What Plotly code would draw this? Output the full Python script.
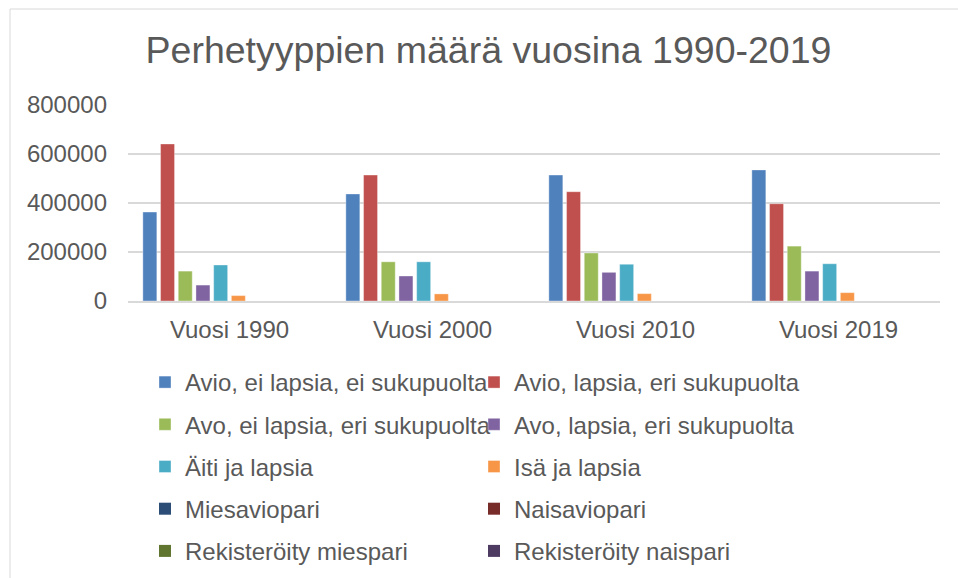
import plotly.graph_objects as go

categories = ["Vuosi 1990", "Vuosi 2000", "Vuosi 2010", "Vuosi 2019"]

series_names = [
    "Avio, ei lapsia, ei sukupuolta",
    "Avio, lapsia, eri sukupuolta",
    "Avo, ei lapsia, eri sukupuolta",
    "Avo, lapsia, eri sukupuolta",
    "Äiti ja lapsia",
    "Isä ja lapsia",
    "Miesaviopari",
    "Naisaviopari",
    "Rekisteröity miespari",
    "Rekisteröity naispari",
]

avio_ei_lapsia = [363000, 437000, 514000, 535000]
avio_lapsia = [641000, 514000, 446000, 397000]
avo_ei_lapsia = [122000, 160000, 196000, 224000]
avo_lapsia = [65000, 102000, 117000, 122000]
aiti_ja_lapsia = [147000, 160000, 150000, 152000]
isa_ja_lapsia = [22000, 29000, 30000, 34000]
# too small to be visible at this scale
miesaviopari = [0, 0, 0, 0]
naisaviopari = [0, 0, 0, 0]
rek_miespari = [0, 0, 0, 0]
rek_naispari = [0, 0, 0, 0]

series_values = [
    avio_ei_lapsia, avio_lapsia, avo_ei_lapsia, avo_lapsia, aiti_ja_lapsia,
    isa_ja_lapsia, miesaviopari, naisaviopari, rek_miespari, rek_naispari,
]

colors = ["#4F81BD", "#C0504D", "#9BBB59", "#8064A2", "#4BACC6",
          "#F79646", "#2C4D75", "#772C2A", "#5F7530", "#4D3B62"]

y_ticks = [0, 200000, 400000, 600000, 800000]

W, H = 958, 578
L, R, T, B = 128, 18, 105, 277
FONT = "Liberation Sans, Arial, sans-serif"
GREY = "#595959"

fig = go.Figure()
for i, (name, vals, col) in enumerate(zip(series_names, series_values, colors)):
    fig.add_trace(go.Bar(
        x=categories, y=vals, name=name,
        marker=dict(color=col,
                    line=dict(color="rgba(255,255,255,0.45)",
                              width=0.8 if i < 6 else 0)),
        legend="legend" if i % 2 == 0 else "legend2",
        legendgroup=f"g{i}",
    ))

legend_common = dict(
    orientation="v",
    xref="container", yref="container",
    xanchor="left", yanchor="top",
    font=dict(family=FONT, size=24, color=GREY),
    tracegroupgap=8,
    bgcolor="rgba(0,0,0,0)",
    traceorder="grouped",
)

fig.update_layout(
    width=W, height=H,
    margin=dict(l=L, r=R, t=T, b=B, autoexpand=False),
    paper_bgcolor="white", plot_bgcolor="white",
    barmode="group", bargap=0.128, bargroupgap=0.21,
    title=dict(text="Perhetyyppien määrä vuosina 1990-2019",
               font=dict(family=FONT, size=37.5, color=GREY),
               x=488.5 / W, xanchor="center", xref="container",
               y=1 - 50 / H, yanchor="middle", yref="container"),
    font=dict(family=FONT, color=GREY),
    legend=dict(x=145 / W, y=1 - 360 / H, **legend_common),
    legend2=dict(x=474 / W, y=1 - 360 / H, **legend_common),
    xaxis=dict(showline=True, linecolor="#D9D9D9", linewidth=1.5,
               tickfont=dict(family=FONT, size=24, color=GREY),
               ticks="", ticklabelstandoff=6, showgrid=False),
    yaxis=dict(range=[0, 800000], tickvals=y_ticks,
               ticktext=[str(v) for v in y_ticks],
               tickfont=dict(family=FONT, size=24, color=GREY),
               showgrid=True, gridcolor="#D9D9D9", gridwidth=1.5,
               zeroline=False, showline=False, ticks="",
               ticklabelstandoff=20),
    shapes=[dict(type="rect", xref="paper", yref="paper",
                 x0=(10 - L) / (W - L - R), x1=(W + 10 - L) / (W - L - R),
                 y0=(H - B - (H + 10)) / (H - T - B), y1=(H - B - 9) / (H - T - B),
                 line=dict(color="#D9D9D9", width=1), fillcolor="rgba(0,0,0,0)",
                 layer="below")],
)

fig.write_html("out.html", config={"displayModeBar": False},
               post_script="document.body.style.margin='0';")
